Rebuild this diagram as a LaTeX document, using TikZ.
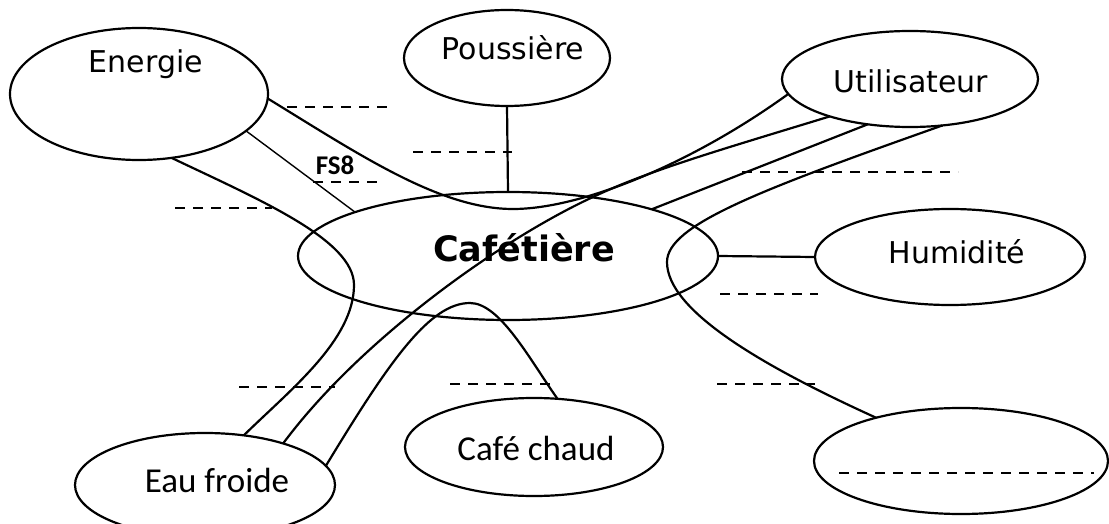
\documentclass[tikz,border=0pt]{standalone}
\usepackage{fontspec}
\setmainfont{DejaVu Sans}
\newfontfamily\calfont{Carlito}
\usetikzlibrary{shapes.geometric}
\begin{document}
\begin{tikzpicture}[x=1pt,y=-1pt,
  oval/.style={draw, ellipse, line width=2.2pt, inner sep=0pt, outer sep=0pt},
  link/.style={line width=2.2pt},
  thinlink/.style={line width=1.4pt},
  blank/.style={line width=2.8pt, dash pattern=on 10pt off 8pt},
  comic/.style={font=\fontsize{30}{32}\selectfont, anchor=base},
  cal/.style={font=\calfont\fontsize{35}{37}\selectfont, anchor=base}]
\useasboundingbox (0,0) rectangle (1109,524);
\fill[white] (0,0) rectangle (1109,524);

% ellipses
\node[oval, minimum width=258pt, minimum height=132pt] (E) at (139,94) {};
\node[oval, minimum width=206pt, minimum height=96pt] (P) at (507,58) {};
\node[oval, minimum width=256pt, minimum height=96pt] (U) at (910,79) {};
\node[oval, minimum width=420pt, minimum height=128pt] (C) at (508,256) {};
\node[oval, minimum width=270pt, minimum height=96pt] (H) at (950,257) {};
\node[oval, minimum width=260pt, minimum height=104pt] (EF) at (205,485) {};
\node[oval, minimum width=258pt, minimum height=98pt] (CC) at (534,447) {};
\node[oval, minimum width=294pt, minimum height=106pt] (B) at (961,461) {};

% texts
\node[comic] (tE) at (146,73) {Energie};
\node[comic] (tP) at (513,60) {Poussière};
\node[comic] (tU) at (911,93) {Utilisateur};
\node[comic] (tH) at (957,263) {Humidité};
\node[font=\bfseries\fontsize{35}{37}\selectfont, anchor=base] (tC) at (524,261) {Cafétière};
\node[cal] (tCC) at (536,460) {Café chaud};
\node[cal] (tEF) at (217,492) {Eau froide};
\node[font=\calfont\bfseries\fontsize{27}{29}\selectfont, anchor=base] (fs8) at (335,175) {FS8};

% connectors
\draw[link] (P.south) -- (C.north);
\draw[link] (C.east) -- (H.west);
\draw[thinlink] (E.-19) -- (C.164);
\draw[link] (U.-133) -- (C.18);
\draw[link] (E.-2) .. controls (360,155) and (440,209) .. (513,209)
  .. controls (580,209) and (690,165) .. (U.-173);
\draw[link] (E.-63) .. controls (260,200) and (354,240) .. (354,285)
  .. controls (354,340) and (290,390) .. (EF.52);
\draw[link] (U.-155) .. controls (720,150) and (650,170) .. (593,197)
  .. controls (500,240) and (360,340) .. (EF.28);
\draw[link] (U.-55) .. controls (760,190) and (667,225) .. (667,262)
  .. controls (667,310) and (760,365) .. (B.153);
\draw[link] (EF.9) .. controls (390,360) and (430,303) .. (470,303)
  .. controls (500,303) and (530,360) .. (CC.64);

% blanks
\draw[blank] (287,107) -- (387,107);
\draw[blank] (413,152) -- (512,152);
\draw[blank] (175,208) -- (272,208);
\draw[blank] (313,182) -- (377,182);
\draw[blank] (742,172) -- (958,172);
\draw[blank] (720,294) -- (818,294);
\draw[blank] (717,384) -- (815,384);
\draw[blank] (239,387) -- (335,387);
\draw[blank] (450,384) -- (550,384);
\draw[blank] (839,473) -- (1094,473);
\end{tikzpicture}
\end{document}
